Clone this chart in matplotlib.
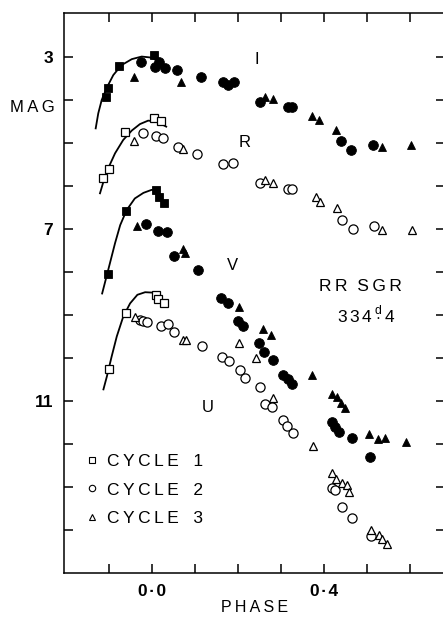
import matplotlib
matplotlib.use('Agg')
import matplotlib.pyplot as plt
from matplotlib.lines import Line2D

#Font
plt.rcParams['font.family'] = ['Liberation Sans', 'DejaVu Sans']
plt.rcParams['mathtext.fontset'] = 'custom'
plt.rcParams['mathtext.rm'] = 'Liberation Sans'

#Light curves of RR Sgr (phase, magnitude)
#I band, filled symbols
I_c1_ph = [-0.108, -0.102, -0.077, 0.005]
I_c1_mag = [3.94, 3.71, 3.20, 2.95]
I_c2_ph = [-0.026, 0.007, 0.017, 0.030, 0.057, 0.114, 0.164, 0.177, 0.191, 0.251, 0.317, 0.326, 0.439, 0.462, 0.515]
I_c2_mag = [3.12, 3.23, 3.12, 3.25, 3.31, 3.46, 3.59, 3.65, 3.59, 4.05, 4.16, 4.17, 4.95, 5.16, 5.05]
I_c3_ph = [-0.043, 0.067, 0.262, 0.281, 0.373, 0.388, 0.428, 0.536, 0.602]
I_c3_mag = [3.46, 3.57, 3.94, 3.98, 4.37, 4.47, 4.70, 5.09, 5.05]
I_fit_ph = [-0.131, -0.125, -0.117, -0.105, -0.090, -0.071, -0.047, -0.024, -0.005, 0.015]
I_fit_mag = [4.66, 4.31, 4.00, 3.71, 3.42, 3.19, 3.05, 2.99, 3.01, 3.09]

#R band, open symbols
R_c1_ph = [-0.113, -0.100, -0.062, 0.005, 0.020]
R_c1_mag = [5.82, 5.61, 4.75, 4.43, 4.49]
R_c2_ph = [-0.022, 0.009, 0.025, 0.060, 0.104, 0.166, 0.189, 0.251, 0.317, 0.325, 0.443, 0.468, 0.516]
R_c2_mag = [4.77, 4.84, 4.88, 5.09, 5.26, 5.49, 5.46, 5.94, 6.08, 6.08, 6.79, 7.01, 6.93]
R_c3_ph = [-0.042, 0.073, 0.262, 0.282, 0.381, 0.391, 0.430, 0.536, 0.604]
R_c3_mag = [4.96, 5.13, 5.86, 5.92, 6.26, 6.37, 6.52, 7.02, 7.02]
R_fit_ph = [-0.121, -0.113, -0.102, -0.086, -0.067, -0.047, -0.028, -0.009, 0.011, 0.033]
R_fit_mag = [6.17, 5.90, 5.59, 5.24, 4.93, 4.71, 4.56, 4.48, 4.50, 4.62]

#V band, filled symbols
V_c1_ph = [-0.103, -0.061, 0.009, 0.016, 0.028]
V_c1_mag = [8.05, 6.58, 6.09, 6.26, 6.40]
V_c2_ph = [-0.015, 0.015, 0.034, 0.052, 0.108, 0.160, 0.177, 0.201, 0.212, 0.249, 0.260, 0.281,
           0.305, 0.317, 0.326, 0.418, 0.426, 0.436, 0.466, 0.507]
V_c2_mag = [6.89, 7.04, 7.08, 7.63, 7.95, 8.60, 8.73, 9.14, 9.25, 9.64, 9.87, 10.05,
            10.40, 10.50, 10.60, 11.48, 11.60, 11.71, 11.86, 12.31]
V_c3_ph = [-0.034, 0.071, 0.077, 0.203, 0.257, 0.276, 0.371, 0.418, 0.430, 0.439, 0.449, 0.505, 0.526, 0.542, 0.590]
V_c3_mag = [6.92, 7.47, 7.55, 8.82, 9.33, 9.47, 10.40, 10.84, 10.91, 11.05, 11.17, 11.77, 11.89, 11.86, 11.96]
V_fit_ph = [-0.116, -0.108, -0.098, -0.086, -0.074, -0.059, -0.040, -0.020, -0.001, 0.012]
V_fit_mag = [8.50, 8.19, 7.80, 7.33, 6.91, 6.56, 6.29, 6.16, 6.09, 6.11]

#U band, open symbols
U_c1_ph = [-0.100, -0.061, 0.009, 0.013, 0.028]
U_c1_mag = [10.26, 8.96, 8.53, 8.63, 8.73]
U_c2_ph = [-0.028, -0.020, -0.012, 0.021, 0.038, 0.050, 0.117, 0.162, 0.178, 0.205, 0.216, 0.251,
           0.263, 0.278, 0.305, 0.315, 0.329, 0.419, 0.426, 0.443, 0.466, 0.509]
U_c2_mag = [9.12, 9.13, 9.16, 9.26, 9.21, 9.40, 9.71, 9.97, 10.07, 10.28, 10.47, 10.67,
            11.07, 11.13, 11.44, 11.58, 11.75, 13.03, 13.08, 13.46, 13.73, 14.14]
U_c3_ph = [-0.040, 0.071, 0.079, 0.203, 0.243, 0.281, 0.374, 0.418, 0.428, 0.441, 0.453, 0.459,
           0.509, 0.528, 0.534, 0.546]
U_c3_mag = [9.04, 9.57, 9.58, 9.64, 10.01, 10.94, 12.04, 12.68, 12.81, 12.91, 12.95, 13.11,
            14.00, 14.12, 14.22, 14.33]
U_fit_ph = [-0.113, -0.105, -0.094, -0.082, -0.067, -0.051, -0.034, -0.016, 0.002, 0.017]
U_fit_mag = [10.73, 10.43, 9.97, 9.50, 9.04, 8.73, 8.53, 8.47, 8.48, 8.57]

#Axis ticks
x_major = [0.0, 0.4]
x_labels = ['0\u200a·\u200a0', '0\u200a·\u200a4']
x_minor = [-0.1, 0.1, 0.2, 0.3, 0.5, 0.6]
y_major = [3, 7, 11]
y_labels = ['3', '7', '11']
y_minor = [4, 5, 6, 8, 9, 10, 12, 13, 14]

fig = plt.figure(figsize=(4.43, 6.18), dpi=100)
ax = fig.add_axes([64/443, 45/618, 381/443, 560/618])

#marker sizes per cycle
ms = {'s': 5.8, 'o': 7.0, '^': 6.3}
def pts(ph, mag, m, filled):
    if filled:
        ax.plot(ph, mag, m, ls='none', ms=ms[m], mfc='black', mec='black', mew=0.6)
    else:
        ax.plot(ph, mag, m, ls='none', ms=ms[m] - 0.4, mfc='white', mec='black', mew=0.9)

for fph, fmag in [(I_fit_ph, I_fit_mag), (R_fit_ph, R_fit_mag), (V_fit_ph, V_fit_mag), (U_fit_ph, U_fit_mag)]:
    ax.plot(fph, fmag, 'k-', lw=1.3)

pts(I_c1_ph, I_c1_mag, 's', True)
pts(I_c2_ph, I_c2_mag, 'o', True)
pts(I_c3_ph, I_c3_mag, '^', True)
pts(R_c1_ph, R_c1_mag, 's', False)
pts(R_c2_ph, R_c2_mag, 'o', False)
pts(R_c3_ph, R_c3_mag, '^', False)
pts(V_c1_ph, V_c1_mag, 's', True)
pts(V_c2_ph, V_c2_mag, 'o', True)
pts(V_c3_ph, V_c3_mag, '^', True)
pts(U_c1_ph, U_c1_mag, 's', False)
pts(U_c2_ph, U_c2_mag, 'o', False)
pts(U_c3_ph, U_c3_mag, '^', False)

#Band labels and star name
ax.text(0.244, 3.05, 'I', fontsize=12, ha='center', va='center')
ax.text(0.216, 4.98, 'R', fontsize=12, ha='center', va='center')
ax.text(0.188, 7.84, 'V', fontsize=12, ha='center', va='center')
ax.text(0.130, 11.14, 'U', fontsize=12, ha='center', va='center')
ax.text(0.484, 8.33, 'R\u2009R  S\u2009G\u2009R', fontsize=12.5, ha='center', va='center')
#period with the day mark set above the decimal point
ax.text(0.498, 9.17, r'$\mathrm{3\,3\,4\,\overset{d}{\cdot}\,4}$', fontsize=12.5, ha='center', va='baseline')

#Legend
handles = [Line2D([], [], marker='s', ls='none', ms=4.2, mfc='white', mec='black', mew=0.8),
           Line2D([], [], marker='o', ls='none', ms=4.6, mfc='white', mec='black', mew=0.8),
           Line2D([], [], marker='^', ls='none', ms=4.6, mfc='white', mec='black', mew=0.8)]
ax.legend(handles, ['C\u2009Y\u2009C\u2009L\u2009E   1', 'C\u2009Y\u2009C\u2009L\u2009E   2', 'C\u2009Y\u2009C\u2009L\u2009E   3'],
          loc='upper left', bbox_to_anchor=(0.055, 0.213), frameon=False, fontsize=12.5,
          handlelength=0.8, handletextpad=0.45, labelspacing=0.78, borderpad=0, borderaxespad=0)

#Axes
ax.set_xlim(-0.2047, 0.6814)
ax.set_ylim(15.0, 1.977)
ax.set_xticks(x_major)
ax.set_xticklabels(x_labels, fontsize=12.5, fontweight='bold')
ax.set_xticks(x_minor, minor=True)
ax.set_yticks(y_major)
ax.set_yticklabels(y_labels, fontsize=12.5, fontweight='bold')
ax.set_yticks(y_minor, minor=True)
ax.tick_params(which='both', direction='in', length=6.5, width=1.1, top=True, right=True)
ax.tick_params(axis='x', which='both', pad=8)
ax.tick_params(axis='y', which='both', pad=8)
for s in ax.spines.values():
    s.set_linewidth(1.1)
ax.set_xlabel('P\u2009H\u2009A\u2009S\u2009E', fontsize=11.5, labelpad=0.5)
fig.text(32/443, 1 - 107/618, 'M\u2009A\u2009G', fontsize=12, ha='center', va='center')

plt.savefig('out.png', dpi=100)
